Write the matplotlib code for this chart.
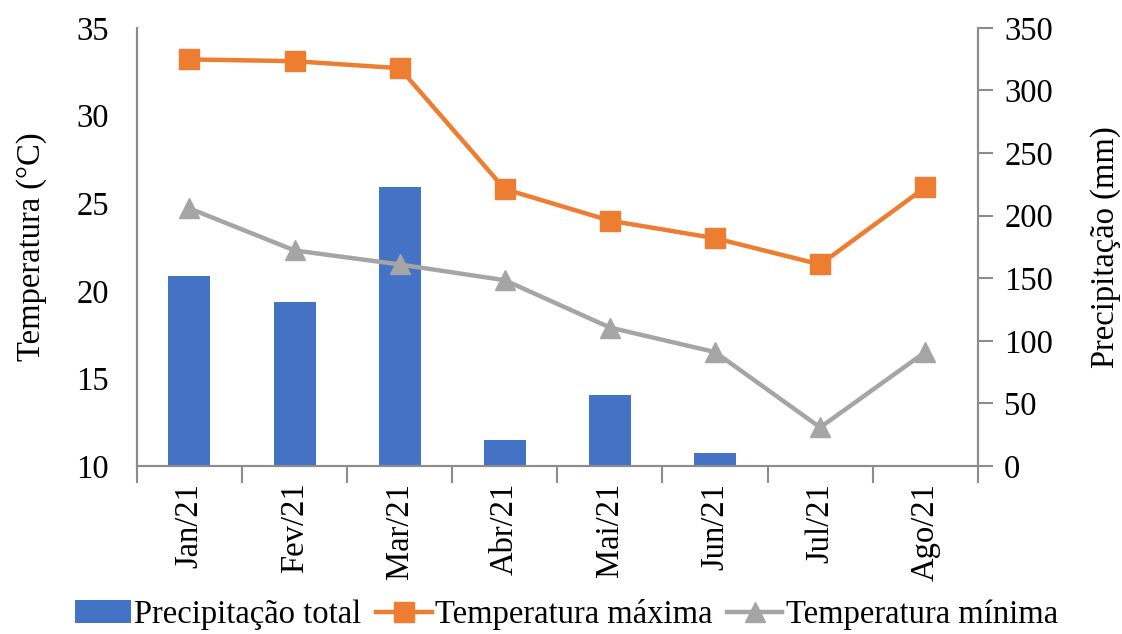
import matplotlib.pyplot as plt
import numpy as np

plt.rcParams['font.family'] = ['Liberation Serif', 'DejaVu Serif']

meses = ['Jan/21', 'Fev/21', 'Mar/21', 'Abr/21', 'Mai/21', 'Jun/21', 'Jul/21', 'Ago/21']
precipitacao = [152, 131, 223, 21, 57, 10, 0, 0]
temp_max = [33.2, 33.1, 32.7, 25.8, 24.0, 23.0, 21.5, 25.9]
temp_min = [24.7, 22.3, 21.5, 20.6, 17.9, 16.5, 12.2, 16.5]

azul = '#4472C4'
laranja = '#ED7D31'
cinza = '#A5A5A5'
eixo = '#8C8C8C'
fs = 23.5

x = np.arange(len(meses))

fig = plt.figure(figsize=(11.22, 6.34), dpi=100)
ax = fig.add_axes([0.122, 0.265, 0.7495, 0.691])

# precipitation bars, read on the right axis
barras = ax.bar(x, precipitacao, width=0.4, color=azul, label='Precipitação total')
ax.set_ylim(0, 350)
ax.set_yticks(range(0, 351, 50))
ax.set_xlim(-0.5, len(meses) - 0.5)

# temperatures on the left axis, drawn above the bars
ax2 = ax.twinx()
l1, = ax2.plot(x, temp_max, color=laranja, lw=3.2, marker='s', ms=14,
               label='Temperatura máxima')
l2, = ax2.plot(x, temp_min, color=cinza, lw=3.2, marker='^', ms=15,
               label='Temperatura mínima')
ax2.set_ylim(10, 35)
ax2.set_yticks(range(10, 36, 5))

# swap sides: precipitation right, temperature left
ax.yaxis.tick_right()
ax.yaxis.set_label_position('right')
ax2.yaxis.tick_left()
ax2.yaxis.set_label_position('left')
ax.set_ylabel('Precipitação (mm)', fontsize=fs, labelpad=27)
ax2.set_ylabel('Temperatura (°C)', fontsize=fs, labelpad=21)

for a in (ax, ax2):
    a.spines['top'].set_visible(False)
    for s in ('left', 'right', 'bottom'):
        a.spines[s].set_color(eixo)
        a.spines[s].set_linewidth(1.5)
    a.tick_params(labelsize=fs)

ax.tick_params(axis='y', direction='out', length=11, width=1.5, color=eixo, pad=8)
ax2.tick_params(axis='y', length=0, pad=20)

# category ticks sit between the months
ax.set_xticks(x)
ax.set_xticklabels(meses, rotation=90, fontsize=fs)
ax.tick_params(axis='x', length=0, pad=12)
ax.set_xticks(np.arange(-0.5, len(meses), 1), minor=True)
ax.tick_params(axis='x', which='minor', length=12, width=1.5, color=eixo)

handles = [barras, l1, l2]
labels = ['Precipitação total', 'Temperatura máxima', 'Temperatura mínima']
fig.legend(handles, labels, loc='lower center',
           bbox_to_anchor=(0.505, -0.04), ncol=3, frameon=False, fontsize=fs,
           handlelength=1.7, handletextpad=0.1, columnspacing=0.45)

fig.savefig('out.png', dpi=100)
